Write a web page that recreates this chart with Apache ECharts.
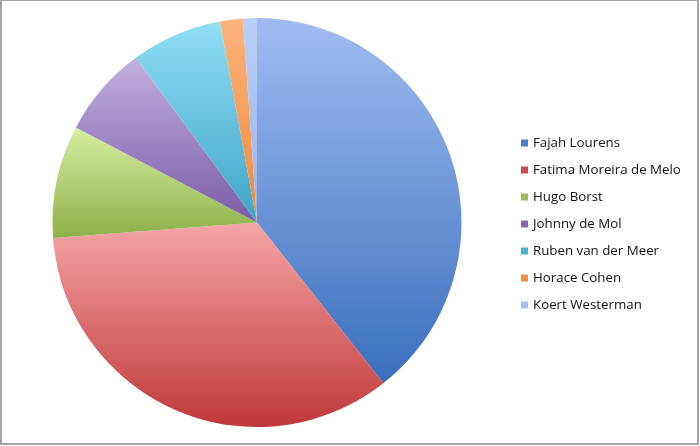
<!DOCTYPE html>
<html>
<head>
<meta charset="utf-8">
<script src="https://cdn.jsdelivr.net/npm/echarts@6/dist/echarts.min.js"></script>
<style>
html,body{margin:0;padding:0;background:#fff;}
#frame{position:absolute;left:0;top:0;width:699px;height:445px;box-sizing:border-box;border:2px solid #a6a6a6;border-top-width:1px;background:#fff;}
#chart{position:absolute;left:0;top:0;width:700px;height:446px;}
</style>
</head>
<body>
<div id="frame"></div>
<div id="chart"></div>
<script>
const names = ["Fajah Lourens","Fatima Moreira de Melo","Hugo Borst","Johnny de Mol","Ruben van der Meer","Horace Cohen","Koert Westerman"];
const values = [39.4, 34.4, 8.9, 7.2, 7.2, 1.8, 1.1];
const topColors = ["#a0bcf2","#f6a5a5","#d6eea2","#c2b0e0","#92def6","#fbb37c","#b8cef6"];
const bottomColors = ["#3a6fbd","#bf383a","#8db049","#7a5ca5","#3ea5c5","#ef8a38","#9ab5ea"];
const legendColors = ["#4a7cc8","#d04a4a","#9bc05a","#8566b0","#46b4d2","#f29040","#a7c1f0"];

const chart = echarts.init(document.getElementById('chart'), null, {renderer:'canvas'});
const data = names.map((n,i)=>({
  name:n, value:values[i],
  itemStyle:{color:new echarts.graphic.LinearGradient(0,0,0,1,[{offset:0,color:topColors[i]},{offset:1,color:bottomColors[i]}])}
}));
chart.setOption({
  backgroundColor:'transparent',
  animation:false,
  legend:{
    orient:'vertical',
    left:516, top:131,
    icon:'rect', itemWidth:7, itemHeight:7, itemGap:13,
    textStyle:{fontFamily:'Open Sans', fontSize:13.3, color:'#111', lineHeight:14},
    data:names.map((n,i)=>({name:n, itemStyle:{color:legendColors[i]}}))
  },
  series:[{
    type:'pie',
    center:[257,222.5],
    radius:[0,204.5],
    startAngle:90,
    clockwise:true,
    label:{show:false},
    labelLine:{show:false},
    emphasis:{disabled:true},
    itemStyle:{borderWidth:0},
    data:data
  }]
});
</script>
</body>
</html>
